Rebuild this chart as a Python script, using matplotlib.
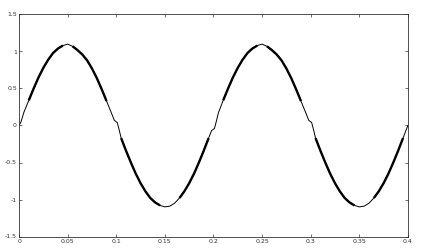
import matplotlib
matplotlib.use("Agg")
import matplotlib.pyplot as plt
import numpy as np

# time (s) and signal values (one period 0..0.2, second period 0.2..0.4)
t_vals = [0.000, 0.002, 0.005, 0.010, 0.015, 0.020, 0.025, 0.030, 0.035, 0.040, 0.045,
          0.050, 0.055, 0.060, 0.065, 0.070, 0.075, 0.080, 0.085, 0.090, 0.095, 0.098,
          0.101, 0.103, 0.105, 0.110, 0.115, 0.120, 0.125, 0.130, 0.135, 0.140, 0.145,
          0.150, 0.155, 0.160, 0.165, 0.170, 0.175, 0.180, 0.185, 0.190, 0.195, 0.198,
          0.201, 0.203, 0.205, 0.210, 0.215, 0.220, 0.225, 0.230, 0.235, 0.240, 0.245,
          0.250, 0.255, 0.260, 0.265, 0.270, 0.275, 0.280, 0.285, 0.290, 0.295, 0.298,
          0.301, 0.303, 0.305, 0.310, 0.315, 0.320, 0.325, 0.330, 0.335, 0.340, 0.345,
          0.350, 0.355, 0.360, 0.365, 0.370, 0.375, 0.380, 0.385, 0.390, 0.395, 0.400]
v_vals = [0.00, 0.05, 0.18, 0.34, 0.50, 0.65, 0.78, 0.89, 0.98, 1.04, 1.08,
          1.10, 1.07, 1.02, 0.96, 0.88, 0.77, 0.64, 0.49, 0.33, 0.17, 0.07,
          0.04, -0.06, -0.17, -0.34, -0.50, -0.65, -0.78, -0.89, -0.98, -1.04, -1.08,
          -1.10, -1.09, -1.05, -0.98, -0.89, -0.78, -0.65, -0.50, -0.34, -0.17, -0.07,
          -0.04, 0.06, 0.17, 0.34, 0.50, 0.65, 0.78, 0.89, 0.98, 1.04, 1.08,
          1.10, 1.07, 1.02, 0.96, 0.88, 0.77, 0.64, 0.49, 0.33, 0.17, 0.07,
          0.04, -0.06, -0.17, -0.34, -0.50, -0.65, -0.78, -0.89, -0.98, -1.04, -1.08,
          -1.10, -1.09, -1.05, -0.98, -0.89, -0.78, -0.65, -0.50, -0.34, -0.17, 0.00]

# intervals where the waveform shows heavy switching ripple (drawn thicker)
ripple_start = [0.010, 0.055, 0.105, 0.165, 0.210, 0.255, 0.305, 0.365]
ripple_end   = [0.045, 0.093, 0.145, 0.195, 0.245, 0.293, 0.345, 0.395]

x_ticks = [0, 0.05, 0.1, 0.15, 0.2, 0.25, 0.3, 0.35, 0.4]
x_labels = ["0", "0.05", "0.1", "0.15", "0.2", "0.25", "0.3", "0.35", "0.4"]
y_ticks = [-1.5, -1, -0.5, 0, 0.5, 1, 1.5]
y_labels = ["-1.5", "-1", "-0.5", "0", "0.5", "1", "1.5"]

t = np.array(t_vals)
v = np.array(v_vals)

fig = plt.figure(figsize=(4.24, 2.5), dpi=100)
ax = fig.add_axes([0.045, 0.054, 0.917, 0.888])

ax.plot(t, v, color="black", lw=0.7)
for s, e in zip(ripple_start, ripple_end):
    m = (t >= s) & (t <= e)
    ax.plot(t[m], v[m], color="black", lw=1.7, solid_capstyle="butt")

ax.set_xlim(0, 0.4)
ax.set_ylim(-1.5, 1.5)
ax.set_xticks(x_ticks)
ax.set_xticklabels(x_labels)
ax.set_yticks(y_ticks)
ax.set_yticklabels(y_labels)
ax.tick_params(direction="in", length=2.5, width=0.5, labelsize=4.5,
               labelcolor="#333333", color="#333333", top=True, right=True, pad=1.5)
for sp in ax.spines.values():
    sp.set_linewidth(0.6)
    sp.set_color("#333333")

fig.savefig("out.png", dpi=100)
